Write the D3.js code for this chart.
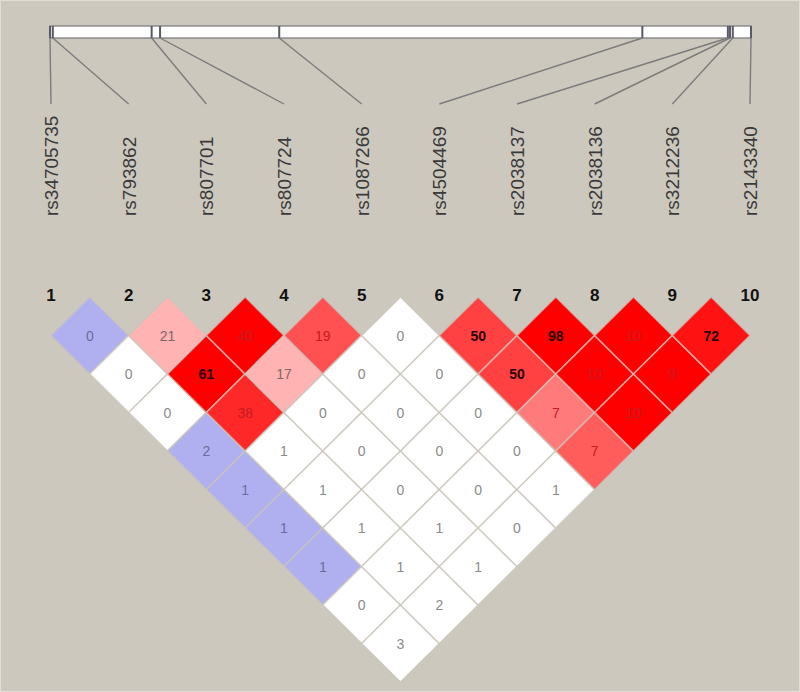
<!DOCTYPE html>
<html>
<head>
<meta charset="utf-8">
<script src="https://cdn.jsdelivr.net/npm/d3@7"></script>
<style>
  body { margin: 0; background: #cdc8be; }
  svg { display: block; }
</style>
</head>
<body>
<div class="graph"></div>
<script>
// marker names, in order along the region
const markers = ["rs34705735", "rs793862", "rs807701", "rs807724", "rs1087266",
                 "rs4504469", "rs2038137", "rs2038136", "rs3212236", "rs2143340"];

// physical position of each marker, kb from the first one
const positionsKb = [0, 0.4, 14.5, 15.7, 32.7, 84.5, 96.7, 97.0, 97.4, 100];

// value printed in each cell, one array per first marker: pairs (i, i+1), (i, i+2) ...
const cellValues = [
  [0, 0, 0, 2, 1, 1, 1, 0, 3],
  [21, 61, 38, 1, 1, 1, 1, 2],
  [40, 17, 0, 0, 0, 1, 1],
  [19, 0, 0, 0, 0, 0],
  [0, 0, 0, 0, 1],
  [50, 50, 7, 7],
  [98, 10, 10],
  [10, 9],
  [72]
];

// cell colour: "B" = D'=1 with LOD<2, "W" = D'<1 with LOD<2, number = D' with LOD>=2
const cellShade = [
  ["B", "W", "W", "B", "B", "B", "B", "W", "W"],
  [0.2, 1, 0.82, "W", "W", "W", "W", "W"],
  [1, 0.2, "W", "W", "W", "W", "W"],
  [0.64, "W", "W", "W", "W", "W"],
  ["W", "W", "W", "W", "W"],
  [0.71, 0.71, 0.45, 0.59],
  [1, 1, 1],
  [1, 1],
  [0.92]
];

const width = 800;
const height = 692;
const bg = "#cdc8be";

const svg = d3.select(".graph")
  .append("svg")
  .attr("width", width)
  .attr("height", height);

svg.append("rect")
  .attr("x", 0.5).attr("y", 0.5)
  .attr("width", width - 1).attr("height", height - 1)
  .attr("fill", bg)
  .attr("stroke", "#e2ded6");

// scales
const xMarker = d3.scalePoint().domain(d3.range(markers.length)).range([51, 750]);
const xPhys = d3.scaleLinear().domain([0, 100]).range([50, 751]);
const yRow = d3.scaleLinear().domain([1, 9]).range([335.5, 643.5]);
const hw = xMarker.step() / 2;
const hh = 38.5;

// top bar with marker ticks
svg.append("rect")
  .attr("x", xPhys(0)).attr("y", 26)
  .attr("width", xPhys(100) - xPhys(0)).attr("height", 12)
  .attr("fill", "#fdfdfd")
  .attr("stroke", "#777")
  .attr("stroke-width", 1.2);

svg.selectAll(".tick-mark")
  .data(positionsKb)
  .enter().append("line")
  .attr("class", "tick-mark")
  .attr("x1", d => xPhys(d)).attr("x2", d => xPhys(d))
  .attr("y1", 26).attr("y2", 38)
  .attr("stroke", "#5a5a66")
  .attr("stroke-width", 2);

// connector lines bar -> label
svg.selectAll(".connector")
  .data(positionsKb)
  .enter().append("line")
  .attr("class", "connector")
  .attr("x1", d => xPhys(d)).attr("y1", 38)
  .attr("x2", (d, i) => xMarker(i)).attr("y2", 104)
  .attr("stroke", "#7c7c7c")
  .attr("stroke-width", 1.4);

// rotated marker names
svg.selectAll(".marker-name")
  .data(markers)
  .enter().append("text")
  .attr("class", "marker-name")
  .attr("transform", (d, i) => "translate(" + xMarker(i) + ",216) rotate(-90)")
  .attr("dy", "0.36em")
  .attr("font-family", "Liberation Sans, Arial, sans-serif")
  .attr("font-size", 19)
  .attr("fill", "#3a3a3a")
  .text(d => d);

// marker numbers
svg.selectAll(".marker-num")
  .data(markers)
  .enter().append("text")
  .attr("class", "marker-num")
  .attr("x", (d, i) => xMarker(i))
  .attr("y", 301)
  .attr("text-anchor", "middle")
  .attr("font-family", "Liberation Sans, Arial, sans-serif")
  .attr("font-weight", "bold")
  .attr("font-size", 17)
  .attr("fill", "#111")
  .text((d, i) => i + 1);

// flatten the triangle into cells
const cells = [];
cellValues.forEach((row, i) => {
  row.forEach((v, k) => {
    const j = i + k + 1;
    cells.push({ i: i, j: j, value: v, shade: cellShade[i][k] });
  });
});

function cellFill(s) {
  if (s === "B") return "#b0b0f0";
  if (s === "W") return "#ffffff";
  const gb = Math.round(224 * (1 - s));
  return d3.rgb(255, gb, gb).toString();
}

function textFill(d) {
  if (d.shade === "B") return "#6b6b9a";
  if (d.shade === "W") return "#8a8a8a";
  if (d.shade < 0.3) return "#806666";
  if (d.value >= 50) return "#2a0404";
  return "#c41c22";
}

const cellG = svg.selectAll(".cell")
  .data(cells)
  .enter().append("g")
  .attr("class", "cell")
  .attr("transform", d => "translate(" + ((xMarker(d.i) + xMarker(d.j)) / 2) + "," + yRow(d.j - d.i) + ")");

cellG.append("path")
  .attr("d", "M0," + (-hh) + "L" + hw + ",0L0," + hh + "L" + (-hw) + ",0Z")
  .attr("fill", d => cellFill(d.shade))
  .attr("stroke", "#c9c4ba")
  .attr("stroke-opacity", 0.75)
  .attr("stroke-width", 1.6);

cellG.append("text")
  .attr("y", 5)
  .attr("text-anchor", "middle")
  .attr("font-family", "Liberation Sans, Arial, sans-serif")
  .attr("font-size", 14)
  .attr("font-weight", d => (typeof d.shade === "number" && d.value >= 50) ? "bold" : "normal")
  .attr("fill", textFill)
  .text(d => d.value);
</script>
</body>
</html>
